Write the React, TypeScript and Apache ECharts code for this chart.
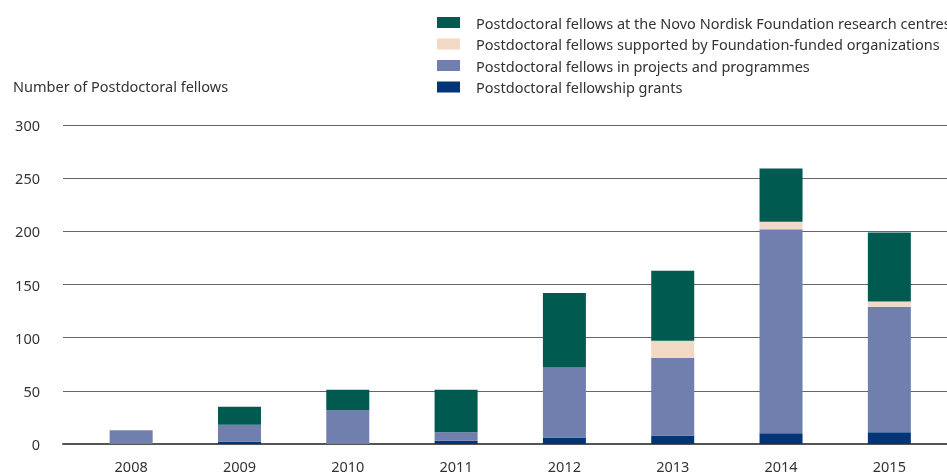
import React, { useEffect, useRef } from "react";
import * as echarts from "echarts";

const years = ["2008", "2009", "2010", "2011", "2012", "2013", "2014", "2015"];
const grants = [0, 2, 0, 3, 6, 8, 10, 11];
const projects = [13, 16, 32, 8, 66, 73, 192, 118];
const organizations = [0, 0, 0, 0, 0, 16, 7, 5];
const centres = [0, 17, 19, 40, 70, 66, 50, 65];

const nameCentres = "Postdoctoral fellows at the Novo Nordisk Foundation research centres";
const nameOrgs = "Postdoctoral fellows supported by Foundation-funded organizations";
const nameProjects = "Postdoctoral fellows in projects and programmes";
const nameGrants = "Postdoctoral fellowship grants";

const yTicks = { min: 0, max: 300, interval: 50 };

const FONT = "Noto Sans";
const FS = 14.5;

export default function App() {
  const ref = useRef<HTMLDivElement>(null);
  useEffect(() => {
    if (!ref.current) return;
    const chart = echarts.init(ref.current, null, { renderer: "svg" });
    const bar = (name: string, data: number[], color: string) => ({
      name,
      type: "bar",
      stack: "total",
      xAxisIndex: 1,
      yAxisIndex: 1,
      barWidth: 43,
      data,
      itemStyle: { color },
    });
    chart.setOption({
      animation: false,
      textStyle: { fontFamily: FONT },
      title: {
        text: "Number of Postdoctoral fellows",
        left: 8,
        top: 73,
        textStyle: { fontFamily: FONT, fontSize: FS, fontWeight: "normal", color: "#333" },
      },
      legend: {
        orient: "vertical",
        left: 432,
        top: 10,
        itemWidth: 23,
        itemHeight: 11,
        itemGap: 6.5,
        icon: "rect",
        data: [nameCentres, nameOrgs, nameProjects, nameGrants],
        textStyle: { fontFamily: FONT, fontSize: FS, color: "#333", padding: [0, 0, 0, 11] },
      },
      grid: [
        { left: 63, right: 0, top: 125, bottom: 30 },
        { left: 77, width: 866.5, top: 125, bottom: 30 },
      ],
      xAxis: [
        {
          gridIndex: 0,
          type: "value",
          min: 0,
          max: 1,
          axisLabel: { show: false },
          axisTick: { show: false },
          splitLine: { show: false },
          axisLine: { show: true, lineStyle: { color: "#555", width: 2 } },
        },
        {
          gridIndex: 1,
          type: "category",
          data: years,
          axisLine: { show: false },
          axisTick: { show: false },
          axisLabel: { fontFamily: FONT, fontSize: FS, color: "#333", margin: 14 },
        },
      ],
      yAxis: [
        {
          gridIndex: 0,
          type: "value",
          ...yTicks,
          axisLine: { show: false },
          axisTick: { show: false },
          axisLabel: { fontFamily: FONT, fontSize: FS, color: "#333", margin: 23 },
          splitLine: { lineStyle: { color: "#666", width: 1 } },
        },
        {
          gridIndex: 1,
          type: "value",
          ...yTicks,
          show: false,
          splitLine: { show: false },
        },
      ],
      series: [
        bar(nameGrants, grants, "#023578"),
        bar(nameProjects, projects, "#717fae"),
        bar(nameOrgs, organizations, "#f1d9c6"),
        bar(nameCentres, centres, "#005a50"),
      ],
    });
    return () => chart.dispose();
  }, []);
  return (
    <div
      ref={ref}
      style={{ position: "fixed", left: 0, top: 0, width: 947, height: 474 }}
    />
  );
}
